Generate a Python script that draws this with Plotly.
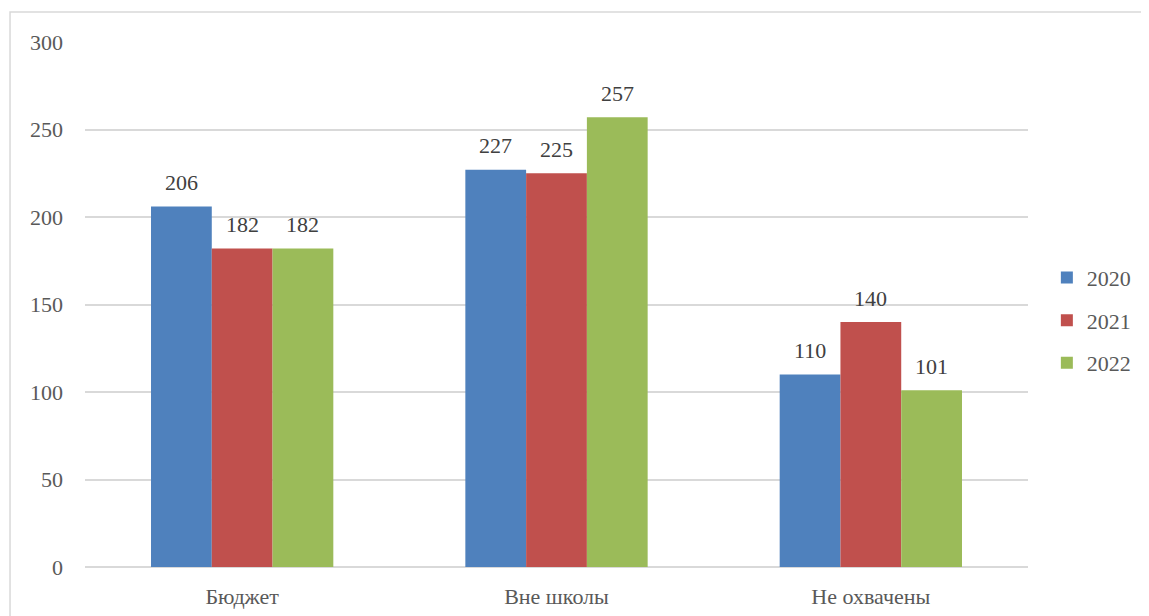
import plotly.graph_objects as go

categories = ["Бюджет", "Вне школы", "Не охвачены"]
years = ["2020", "2021", "2022"]
values_2020 = [206, 227, 110]
values_2021 = [182, 225, 140]
values_2022 = [182, 257, 101]
y_ticks = [0, 50, 100, 150, 200, 250, 300]

series = [values_2020, values_2021, values_2022]
colors = ["#4F81BD", "#C0504D", "#9BBB59"]
FONT = "Liberation Serif, serif"
TXT = "#595959"

PLOT_W = 943
BARGAP = 0.42
bar_px = PLOT_W / len(categories) * (1 - BARGAP) / len(years)

fig = go.Figure()
for i, (name, vals, col) in enumerate(zip(years, series, colors)):
    fig.add_trace(go.Bar(
        x=categories, y=vals, name=name, marker_color=col,
        marker_line_width=0, legendgroup=name,
    ))
    for c, v in zip(categories, vals):
        fig.add_annotation(x=c, y=v, text=str(v), showarrow=False,
                           xshift=(i - 1) * bar_px, yshift=24, yanchor="middle",
                           font=dict(family=FONT, size=22, color="#404040"))

fig.update_layout(
    width=1141, height=608,
    margin=dict(l=77, r=121, t=34, b=49),
    paper_bgcolor="white", plot_bgcolor="white",
    barmode="group", bargap=BARGAP, bargroupgap=0,
    font=dict(family=FONT, size=22, color=TXT),
    showlegend=True,
    legend=dict(x=1.02, y=0.47, xanchor="left", yanchor="middle",
                font=dict(family=FONT, size=22, color=TXT),
                tracegroupgap=11, itemwidth=30),
    xaxis=dict(showgrid=False, showline=False, ticks="outside", ticklen=10, automargin=False,
               tickcolor="rgba(0,0,0,0)", tickfont=dict(family=FONT, size=22, color=TXT)),
    yaxis=dict(range=[0, 300], tickvals=y_ticks, showgrid=True, gridcolor="#D9D9D9",
               gridwidth=1.5, zeroline=True, zerolinecolor="#D9D9D9", zerolinewidth=1.5,
               showline=False, ticklabelstandoff=21, automargin=False,
               tickfont=dict(family=FONT, size=22, color=TXT)),
    shapes=[dict(type="rect", xref="paper", yref="paper",
                 x0=-0.0795, y0=-0.3, x1=1.3, y1=1.0571,
                 line=dict(color="#D9D9D9", width=1.5), layer="below")],
)

fig.write_html("out.html")
